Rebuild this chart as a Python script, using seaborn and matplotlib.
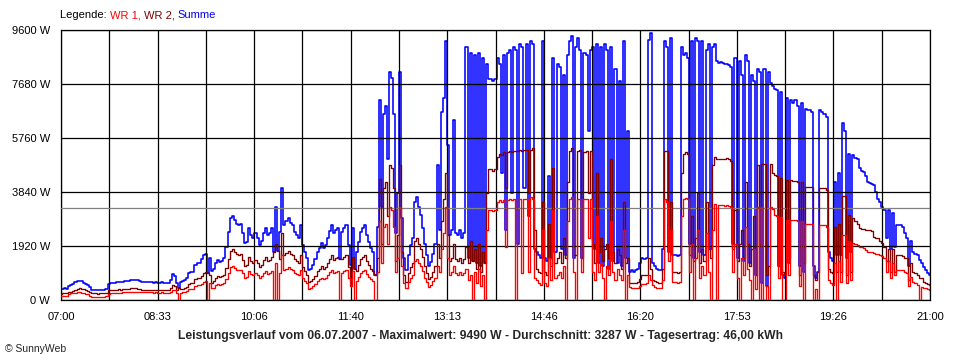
import matplotlib
matplotlib.use("Agg")
import matplotlib.pyplot as plt
import numpy as np
import pandas as pd
import seaborn as sns

# -- Data (one value every 2 minutes, 07:00 .. 21:00, in W) -----------------
step_min = 2

wr1 = [
    150, 150, 160, 150, 230, 240, 250, 260, 280, 270,
    260, 240, 230, 200, 150, 120, 110, 110, 110, 120,
    110, 120, 140, 230, 240, 240, 250, 260, 250, 260,
    270, 270, 280, 290, 300, 300, 300, 300, 290, 280,
    280, 270, 270, 270, 270, 260, 270, 260, 260, 270,
    260, 250, 260, 290, 370, 350, 250, 0, 260, 280,
    290, 320, 380, 390, 400, 500, 520, 520, 580, 640,
    660, 0, 600, 420, 440, 520, 570, 540, 560, 600,
    760, 970, 1160, 1200, 1140, 1080, 1060, 1080, 960, 800,
    830, 1020, 920, 880, 950, 880, 780, 840, 960, 1020,
    920, 960, 1020, 0, 1330, 0, 970, 1600, 1070, 1120,
    1160, 1100, 1070, 970, 920, 880, 1070, 780, 680, 590,
    400, 420, 500, 580, 690, 740, 800, 740, 780, 880,
    980, 1070, 950, 1000, 1020, 0, 970, 1020, 1070, 780,
    500, 1020, 0, 690, 830, 970, 1020, 1070, 920, 830,
    740, 680, 0, 1000, 2800, 1300, 2600, 2700, 2000, 3300,
    3200, 2600, 1000, 1500, 3300, 1200, 600, 430, 640, 780,
    880, 1400, 1460, 1330, 1210, 1020, 800, 640, 450, 520,
    660, 800, 1200, 1000, 1800, 2400, 3300, 1500, 900, 1000,
    1200, 950, 900, 1000, 880, 950, 1100, 700, 900, 0,
    1000, 600, 1100, 500, 900, 0, 2500, 3200, 3200, 3150,
    3200, 3500, 3550, 3500, 3550, 1900, 3550, 3600, 3550, 3600,
    0, 3600, 3600, 950, 3600, 3600, 1000, 3650, 3600, 800,
    700, 600, 550, 2500, 600, 500, 1500, 700, 3200, 800,
    900, 1000, 800, 1200, 0, 2800, 3600, 3650, 1000, 0,
    3600, 3600, 1000, 3600, 3600, 2200, 3600, 1000, 700, 3000,
    1000, 1300, 800, 0, 1200, 900, 2800, 1000, 700, 1100,
    900, 700, 2500, 0, 900, 450, 420, 410, 420, 440,
    500, 560, 580, 600, 900, 700, 520, 480, 440, 420,
    420, 700, 3600, 3500, 1400, 2500, 650, 650, 620, 640,
    3000, 3600, 3620, 3600, 1000, 2000, 0, 1500, 2500, 800,
    1200, 900, 2400, 1000, 0, 2500, 3400, 0, 3380, 3380,
    3380, 3360, 3380, 3350, 3300, 1000, 2000, 800, 0, 1500,
    900, 2600, 1100, 700, 0, 1800, 400, 3300, 0, 3320,
    0, 500, 0, 3300, 3250, 3020, 3000, 800, 2950, 0,
    0, 2850, 900, 2850, 2840, 2830, 2800, 500, 2800, 0,
    2700, 2700, 2700, 2690, 0, 400, 0, 2680, 2670, 2650,
    2600, 700, 600, 550, 1300, 0, 1400, 650, 2300, 2300,
    600, 2100, 700, 2010, 1980, 1960, 1900, 1880, 1840, 1780,
    1720, 1710, 1700, 1660, 1650, 1630, 1590, 1580, 1480, 1000,
    1400, 800, 1300, 900, 1070, 1070, 1060, 1050, 1000, 950,
    500, 830, 650, 600, 530, 0, 480, 430, 415, 380,
    356,
]

wr2 = [
    230, 240, 250, 240, 280, 300, 330, 370, 400, 420,
    400, 380, 350, 330, 300, 250, 240, 240, 230, 240,
    240, 240, 260, 340, 360, 360, 370, 370, 380, 370,
    380, 390, 400, 400, 410, 420, 410, 400, 380, 370,
    370, 360, 360, 360, 370, 360, 360, 360, 360, 370,
    360, 350, 360, 410, 540, 500, 350, 420, 380, 400,
    430, 480, 570, 590, 600, 750, 780, 780, 870, 960,
    990, 950, 890, 620, 660, 780, 850, 810, 840, 890,
    1140, 1460, 1740, 1800, 1710, 1620, 1590, 1620, 1440, 1210,
    1240, 1530, 1380, 1320, 1420, 1320, 1180, 1260, 1440, 1530,
    1390, 1440, 1530, 1700, 1990, 1750, 1460, 2370, 1600, 1680,
    1740, 1650, 1600, 1460, 1380, 1310, 1600, 1180, 1020, 890,
    650, 680, 740, 870, 1030, 1110, 1210, 1100, 1170, 1310,
    1470, 1600, 1420, 1500, 1530, 1450, 1460, 1530, 1600, 1180,
    740, 1530, 1100, 1030, 1240, 1460, 1530, 1600, 1380, 1240,
    1100, 1020, 900, 1500, 4300, 2000, 4000, 4200, 3000, 4800,
    4700, 4000, 1400, 2300, 4800, 1700, 900, 640, 960, 1180,
    1310, 2100, 2190, 1990, 1810, 1530, 1200, 960, 750, 830,
    990, 1200, 2000, 1500, 2800, 3600, 4500, 2300, 1400, 1500,
    2000, 1450, 1400, 1500, 1320, 1450, 1900, 1300, 2100, 1400,
    1800, 1100, 2000, 1000, 1700, 1300, 3800, 4650, 4650, 4600,
    4650, 5100, 5200, 5150, 5250, 4000, 5250, 5300, 5250, 5300,
    5300, 5300, 5350, 5300, 5350, 5350, 3800, 5350, 5400, 2500,
    1100, 1000, 950, 3500, 1000, 900, 2700, 1200, 4700, 1300,
    1500, 1700, 1300, 2200, 1500, 4200, 5300, 5400, 1600, 1600,
    5300, 5350, 1500, 5250, 5300, 3800, 5300, 2000, 1300, 4500,
    1700, 2200, 1400, 1800, 2000, 1500, 5000, 1700, 1300, 1800,
    1600, 1100, 3500, 1300, 1500, 620, 600, 590, 600, 650,
    750, 900, 880, 900, 1500, 1100, 720, 680, 640, 620,
    620, 1100, 5300, 5300, 2200, 3500, 1000, 1000, 950, 1000,
    4500, 5200, 5250, 5200, 1600, 3000, 1400, 2200, 3800, 1300,
    1800, 1400, 3500, 1800, 1500, 4800, 5100, 5000, 5030, 5030,
    5030, 5020, 5040, 5000, 4950, 1800, 3200, 1400, 2000, 2500,
    1500, 4200, 2000, 1200, 1800, 3000, 900, 4800, 2000, 4850,
    4850, 900, 1200, 4850, 4500, 4440, 4400, 1200, 4350, 1000,
    900, 4250, 1500, 4250, 4240, 4230, 4200, 900, 4200, 1300,
    4030, 4030, 4020, 4010, 900, 700, 1000, 4000, 3990, 3980,
    3900, 1100, 1000, 950, 2600, 1000, 2700, 1000, 3700, 3700,
    900, 3020, 1000, 2900, 2800, 2720, 2550, 2540, 2520, 2500,
    2490, 2480, 2460, 2250, 2220, 2190, 2100, 2010, 1900, 1400,
    1800, 1000, 1800, 1000, 1600, 1600, 1590, 1560, 1500, 1480,
    700, 1300, 1010, 950, 890, 800, 770, 650, 600, 560,
    530,
]

summe = [
    380, 390, 410, 390, 510, 540, 580, 630, 680, 690,
    660, 620, 580, 530, 450, 370, 350, 350, 340, 360,
    350, 360, 400, 570, 600, 600, 620, 630, 630, 630,
    650, 660, 680, 690, 710, 720, 710, 700, 670, 650,
    650, 630, 630, 630, 640, 620, 630, 620, 620, 640,
    620, 600, 620, 700, 910, 850, 600, 420, 640, 680,
    720, 800, 950, 980, 1000, 1250, 1300, 1300, 1450, 1600,
    1650, 950, 1490, 1040, 1100, 1300, 1420, 1350, 1400, 1490,
    1900, 2430, 2900, 3000, 2850, 2700, 2650, 2700, 2400, 2010,
    2070, 2550, 2300, 2200, 2370, 2200, 1960, 2100, 2400, 2550,
    2310, 2400, 2550, 1720, 3320, 1750, 2430, 3970, 2670, 2800,
    2900, 2750, 2670, 2430, 2300, 2190, 2670, 1960, 1700, 1480,
    1050, 1100, 1240, 1450, 1720, 1850, 2010, 1840, 1950, 2190,
    2450, 2670, 2370, 2500, 2550, 1450, 2430, 2550, 2670, 1960,
    1240, 2550, 1100, 1720, 2070, 2430, 2550, 2670, 2300, 2070,
    1840, 1700, 900, 2600, 7100, 3300, 6600, 6900, 5000, 8100,
    7900, 6600, 2400, 3800, 8100, 2900, 1500, 1070, 1600, 1960,
    2190, 3500, 3650, 3320, 3020, 2550, 2000, 1600, 1200, 1350,
    1650, 2000, 4800, 2500, 6700, 7200, 9200, 5500, 2300, 2500,
    6400, 2400, 2300, 2500, 2200, 2400, 9000, 1500, 8800, 1400,
    8700, 1300, 8800, 1200, 8600, 1300, 8400, 7850, 7850, 7800,
    7850, 8600, 8400, 4500, 8700, 2500, 8800, 8900, 3800, 9000,
    8900, 2000, 9100, 9000, 4000, 9100, 3000, 9200, 9100, 1800,
    1700, 1600, 1500, 9200, 1500, 1400, 4400, 1500, 8600, 1700,
    8400, 8300, 1800, 8000, 1600, 8700, 9200, 9400, 1500, 9000,
    9300, 8900, 1500, 8800, 8700, 6000, 8900, 9000, 1800, 9100,
    1300, 9000, 1200, 9100, 8900, 1100, 9000, 1400, 8200, 1300,
    7800, 1200, 9200, 1500, 6000, 1000, 1050, 1000, 1050, 1100,
    1300, 1480, 1450, 1500, 9250, 9490, 1300, 1200, 1100, 1050,
    1050, 1800, 9200, 9000, 1700, 9300, 1600, 1600, 1550, 1600,
    9000, 8700, 8800, 8600, 2000, 9200, 1500, 9300, 9200, 1700,
    9200, 1600, 8900, 9100, 1800, 9000, 9100, 8500, 8420, 8450,
    8420, 8400, 8380, 8350, 8300, 2000, 8600, 1500, 8500, 8000,
    1400, 8700, 8500, 1300, 8000, 7800, 900, 8200, 8100, 600,
    8200, 500, 8100, 7700, 7600, 7500, 7450, 1200, 7400, 900,
    800, 7200, 1300, 7100, 7000, 7100, 6900, 1200, 7000, 1000,
    6800, 6750, 6750, 6700, 1200, 800, 1000, 6750, 6700, 6600,
    6500, 1700, 1500, 1400, 4200, 1600, 4500, 1600, 6300, 6000,
    1500, 5200, 1700, 5160, 5040, 5000, 4680, 4600, 4560, 4400,
    4210, 4150, 4120, 4090, 3850, 3600, 3500, 3300, 3200, 2200,
    3200, 1800, 3100, 1900, 2670, 2670, 2650, 2610, 2400, 2190,
    1200, 2100, 1720, 1650, 1600, 1420, 1300, 1180, 1050, 950,
    890,
]

x_labels = ["07:00", "08:33", "10:06", "11:40", "13:13",
            "14:46", "16:20", "17:53", "19:26", "21:00"]
y_ticks = [0, 1920, 3840, 5760, 7680, 9600]
average_w = 3287
title_text = ("Leistungsverlauf vom 06.07.2007 - Maximalwert: 9490 W - "
              "Durchschnitt: 3287 W - Tagesertrag: 46,00 kWh")
legend_parts = [("Legende: ", "black"), ("WR 1, ", "#ff0000"),
                ("WR 2, ", "#800000"), ("Summe", "#0000ff")]

data = pd.DataFrame({
    "minute": np.arange(len(summe)) * step_min,
    "WR 1": wr1,
    "WR 2": wr2,
    "Summe": summe,
})

# -- Style -----------------------------------------------------------------
sns.set_style("white")
plt.rcParams["font.family"] = ["Liberation Sans", "DejaVu Sans"]

fig = plt.figure(figsize=(9.6, 3.6), dpi=100)
ax = fig.add_axes([61 / 960, 60 / 360, 869 / 960, 270 / 360])

# -- Series (blue at the back, red on top) ---------------------------------
line_kw = dict(estimator=None, legend=False, ax=ax, drawstyle="steps-mid")
sns.lineplot(data=data, x="minute", y="Summe", color="#0000ff", lw=1.15,
             zorder=2, **line_kw)
sns.lineplot(data=data, x="minute", y="WR 2", color="#800000", lw=0.95,
             zorder=3, **line_kw)
sns.lineplot(data=data, x="minute", y="WR 1", color="#ff0000", lw=0.95,
             zorder=4, **line_kw)
ax.axhline(average_w, color="#808080", lw=0.9, zorder=2.6)

# -- Axes, grid, ticks -------------------------------------------------------
total_min = (len(summe) - 1) * step_min
ax.set_xlim(0, total_min)
ax.set_ylim(y_ticks[0], y_ticks[-1])
x_ticks = np.linspace(0, total_min, 2 * len(x_labels) - 1)
ax.set_xticks(x_ticks)
ax.set_xticklabels([x_labels[k // 2] if k % 2 == 0 else ""
                    for k in range(len(x_ticks))])
ax.set_yticks(y_ticks)
ax.set_yticklabels([f"{v} W" for v in y_ticks])
ax.set_xlabel("")
ax.set_ylabel("")

ax.set_axisbelow(False)
ax.grid(True, color="black", lw=0.9)
for spine in ax.spines.values():
    spine.set_color("black")
    spine.set_linewidth(0.9)
ax.tick_params(axis="both", direction="out", length=4.3, width=0.9,
               color="black", labelsize=8, labelcolor="black")
ax.tick_params(axis="x", pad=4)
ax.tick_params(axis="y", pad=3.5)

# -- Texts -------------------------------------------------------------------
fig.text(0.5, 1 - 336 / 360, title_text, ha="center", va="center",
         fontsize=8.75, fontweight="bold")
fig.text(5 / 960, 1 - 349 / 360, "\u00a9 SunnyWeb", ha="left", va="center",
         fontsize=7.5)

# coloured legend line, piece by piece
fig.canvas.draw()
renderer = fig.canvas.get_renderer()
x_px = 60
for label, colour in legend_parts:
    fig.text(x_px / 960, 1 - 15 / 360, label, color=colour,
             ha="left", va="center", fontsize=8)
    probe = fig.text(0, 0, label + "|", fontsize=8)
    bar = fig.text(0, 0, "|", fontsize=8)
    w = (probe.get_window_extent(renderer).width
         - bar.get_window_extent(renderer).width)
    probe.remove()
    bar.remove()
    x_px += w

fig.savefig("out.png", dpi=100)
